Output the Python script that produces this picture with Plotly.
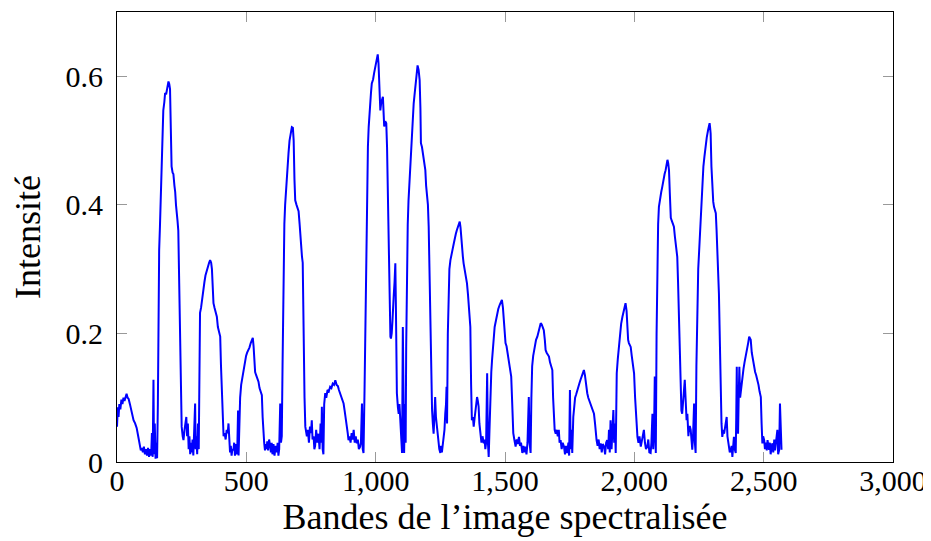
import plotly.graph_objects as go

# Bandes (abscisses) et intensités, par tronçons
bandes_1 = [0, 3, 6, 9, 13, 17, 21, 25, 29, 33, 37, 41, 45, 50, 55, 60, 64, 70, 76, 82,
            88, 92, 96, 100, 104, 108, 112, 116, 120, 124, 128, 132, 135, 138, 141, 143, 146, 149, 152, 155,
            158, 160, 163, 166, 170, 173, 176, 179, 183, 186, 190, 194, 199, 202, 205, 208, 211, 215, 218, 222,
            225, 228, 231, 234, 237, 240, 244, 247, 250, 254, 257, 261, 265, 268, 271, 274, 277, 280, 283, 286,
            289, 292, 295, 298, 302, 304, 307, 310, 313, 316, 318, 321, 325, 328, 331, 334, 338, 342, 347, 351,
            356, 360, 364, 367, 370, 373, 377, 381, 386, 390, 393, 396, 399, 402, 405, 409, 412, 416, 420, 424,
            428, 431, 434, 437, 440, 443, 446, 450, 453, 456, 459, 462, 465, 468, 470, 473, 476, 480, 483, 487,
            491, 495, 499, 503, 508, 512, 517, 521, 525, 528, 531, 534, 538, 542, 547, 551, 556, 560, 563, 566,
            569, 572, 575, 578, 581, 584, 588, 592, 595, 598, 601, 605, 609, 613, 618, 621, 624, 627, 631, 634,
            637, 640, 644, 647, 650, 654, 658, 663, 667, 671, 676, 680, 683, 686, 689, 694, 698, 702, 706, 710,
            715, 718, 721, 725, 728, 731, 734]
intens_1 = [0.055, 0.085, 0.07, 0.09, 0.082, 0.097, 0.09, 0.1, 0.095, 0.103, 0.106, 0.1, 0.098, 0.09, 0.08, 0.072, 0.065, 0.06, 0.053, 0.04,
            0.026, 0.018, 0.022, 0.015, 0.024, 0.012, 0.02, 0.01, 0.022, 0.008, 0.02, 0.01, 0.045, 0.008, 0.128, 0.012, 0.06, 0.005, 0.03, 0.006,
            0.09, 0.2, 0.33, 0.366, 0.42, 0.47, 0.51, 0.547, 0.56, 0.574, 0.572, 0.585, 0.592, 0.588, 0.58, 0.52, 0.46, 0.45, 0.448, 0.43,
            0.42, 0.40, 0.38, 0.375, 0.36, 0.30, 0.21, 0.12, 0.055, 0.04, 0.034, 0.05, 0.06, 0.07, 0.04, 0.06, 0.02, 0.04, 0.012, 0.03,
            0.015, 0.035, 0.01, 0.04, 0.091, 0.02, 0.04, 0.012, 0.06, 0.02, 0.12, 0.232, 0.24, 0.25, 0.26, 0.273, 0.28, 0.29, 0.299, 0.305,
            0.31, 0.314, 0.31, 0.3, 0.26, 0.247, 0.24, 0.235, 0.226, 0.21, 0.205, 0.2, 0.195, 0.15, 0.107, 0.06, 0.04, 0.045, 0.035, 0.05,
            0.045, 0.06, 0.03, 0.015, 0.025, 0.01, 0.02, 0.018, 0.03, 0.01, 0.028, 0.012, 0.02, 0.08, 0.01, 0.085, 0.1, 0.12, 0.128, 0.14,
            0.15, 0.16, 0.165, 0.17, 0.174, 0.178, 0.185, 0.188, 0.193, 0.18, 0.15, 0.14, 0.135, 0.13, 0.125, 0.115, 0.108, 0.104, 0.07, 0.04,
            0.03, 0.018, 0.028, 0.02, 0.032, 0.018, 0.035, 0.025, 0.015, 0.03, 0.012, 0.028, 0.01, 0.025, 0.015, 0.03, 0.01, 0.02, 0.091, 0.03,
            0.04, 0.15, 0.325, 0.37, 0.40, 0.43, 0.45, 0.48, 0.5, 0.51, 0.521, 0.52, 0.5, 0.44, 0.407, 0.4, 0.395, 0.39, 0.37, 0.34,
            0.32, 0.31, 0.2, 0.1, 0.055, 0.045, 0.04]

bandes_2 = [738, 742, 746, 750, 753, 756, 760, 763, 766, 770, 774, 779, 783, 787, 790, 792, 795, 798, 801, 805,
            809, 814, 819, 824, 829, 834, 839, 844, 849, 854, 858, 863, 868, 872, 876, 880, 884, 889, 892, 895,
            899, 903, 907, 911, 915, 919, 923, 927, 931, 935, 940, 943, 947, 950, 953, 957, 960, 962, 966, 970,
            973, 976, 979, 982, 985, 990, 994, 998, 1002, 1005, 1008, 1011, 1015, 1018, 1022, 1025, 1028, 1031, 1033, 1037,
            1041, 1044, 1046, 1050, 1052, 1054, 1057, 1059, 1062, 1065, 1067, 1070, 1073, 1076, 1078, 1080, 1082, 1086, 1089, 1092,
            1095, 1098, 1102, 1105, 1107, 1110, 1113, 1116, 1118, 1121, 1124, 1127, 1131, 1134, 1138, 1142, 1147, 1150, 1153, 1157,
            1162, 1166, 1170, 1173, 1175, 1179, 1182, 1185, 1189, 1192, 1195, 1198, 1202, 1205, 1208, 1211, 1214, 1218, 1221, 1224,
            1227, 1230, 1233, 1237, 1240, 1243, 1246, 1250, 1253, 1256, 1260, 1263, 1266, 1269, 1272, 1274, 1276, 1279, 1282, 1285]
intens_2 = [0.05, 0.03, 0.055, 0.045, 0.065, 0.035, 0.04, 0.02, 0.025, 0.05, 0.03, 0.044, 0.02, 0.06, 0.03, 0.086, 0.02, 0.012, 0.09, 0.107,
            0.1, 0.112, 0.11, 0.117, 0.115, 0.122, 0.12, 0.127, 0.12, 0.118, 0.112, 0.107, 0.1, 0.095, 0.091, 0.08, 0.07, 0.055, 0.045, 0.034,
            0.04, 0.03, 0.045, 0.035, 0.05, 0.03, 0.04, 0.029, 0.035, 0.02, 0.024, 0.03, 0.091, 0.02, 0.014, 0.112, 0.2, 0.314, 0.454, 0.49,
            0.521, 0.545, 0.563, 0.575, 0.589, 0.595, 0.605, 0.615, 0.622, 0.63, 0.634, 0.62, 0.574, 0.547, 0.56, 0.565, 0.568, 0.54, 0.522, 0.53,
            0.527, 0.49, 0.444, 0.366, 0.28, 0.21, 0.195, 0.192, 0.2, 0.22, 0.231, 0.26, 0.28, 0.309, 0.25, 0.2, 0.107, 0.085, 0.075, 0.09,
            0.065, 0.04, 0.014, 0.21, 0.06, 0.014, 0.09, 0.03, 0.18, 0.314, 0.37, 0.407, 0.44, 0.47, 0.5, 0.53, 0.558, 0.57, 0.583, 0.6,
            0.617, 0.61, 0.594, 0.55, 0.496, 0.49, 0.48, 0.475, 0.465, 0.454, 0.43, 0.418, 0.4, 0.366, 0.3, 0.21, 0.13, 0.081, 0.06, 0.044,
            0.07, 0.101, 0.07, 0.055, 0.04, 0.03, 0.02, 0.014, 0.025, 0.015, 0.03, 0.034, 0.05, 0.075, 0.09, 0.117, 0.06, 0.2, 0.288, 0.3]

bandes_3 = [1289, 1293, 1297, 1302, 1306, 1310, 1314, 1318, 1322, 1325, 1328, 1331, 1334, 1337, 1340, 1344, 1348, 1353, 1357, 1361,
            1364, 1366, 1369, 1372, 1376, 1379, 1383, 1388, 1392, 1395, 1398, 1401, 1405, 1409, 1413, 1418, 1421, 1424, 1427, 1431,
            1434, 1437, 1440, 1443, 1447, 1450, 1453, 1456, 1460, 1465, 1469, 1474, 1480, 1485, 1488, 1492, 1496, 1499, 1502, 1506,
            1510, 1515, 1519, 1524, 1528, 1532, 1536, 1541, 1545, 1549, 1554, 1558, 1562, 1567, 1571, 1575, 1579, 1583, 1587, 1590,
            1592, 1595, 1599, 1602, 1605, 1609, 1612, 1616, 1620, 1625, 1630, 1634, 1638, 1642, 1646, 1650, 1654, 1657, 1661, 1665,
            1670, 1674, 1679, 1683, 1686, 1689, 1692, 1696, 1700, 1704, 1708, 1711, 1715, 1719, 1723, 1728, 1732, 1736, 1741, 1745,
            1748, 1751, 1754, 1757, 1760, 1764, 1767, 1771, 1775, 1779, 1783, 1788, 1792, 1796, 1800, 1805, 1809, 1813, 1818, 1822,
            1826, 1831, 1835, 1840, 1844, 1848, 1851, 1854, 1858, 1862, 1866, 1870, 1874, 1878, 1883, 1887, 1891, 1895, 1899, 1902,
            1905, 1908, 1912, 1916, 1919, 1922, 1925, 1928, 1932, 1936, 1941, 1945, 1949, 1954, 1958, 1962, 1966, 1970, 1973, 1976,
            1979, 1983, 1986, 1990, 1994, 1999, 2003, 2008, 2012, 2016, 2020, 2025, 2029, 2033, 2037, 2041, 2045, 2050, 2054, 2058,
            2063, 2066, 2070, 2073, 2076, 2079, 2081, 2083]
intens_3 = [0.314, 0.32, 0.33, 0.34, 0.35, 0.355, 0.361, 0.365, 0.37, 0.374, 0.365, 0.345, 0.335, 0.32, 0.309, 0.3, 0.29, 0.278, 0.26, 0.24,
            0.22, 0.21, 0.12, 0.065, 0.07, 0.055, 0.07, 0.09, 0.101, 0.095, 0.086, 0.06, 0.039, 0.03, 0.04, 0.029, 0.035, 0.02, 0.03, 0.138,
            0.03, 0.008, 0.05, 0.107, 0.14, 0.159, 0.18, 0.2, 0.21, 0.22, 0.231, 0.238, 0.245, 0.25, 0.252, 0.24, 0.22, 0.2, 0.185, 0.18,
            0.17, 0.16, 0.15, 0.133, 0.09, 0.045, 0.035, 0.024, 0.035, 0.028, 0.039, 0.025, 0.03, 0.014, 0.025, 0.015, 0.024, 0.012, 0.03, 0.06,
            0.101, 0.03, 0.014, 0.1, 0.149, 0.165, 0.174, 0.18, 0.19, 0.195, 0.205, 0.21, 0.216, 0.214, 0.21, 0.205, 0.19, 0.174, 0.17, 0.168,
            0.164, 0.155, 0.148, 0.143, 0.1, 0.055, 0.05, 0.044, 0.05, 0.04, 0.05, 0.03, 0.034, 0.02, 0.03, 0.024, 0.012, 0.025, 0.014, 0.03,
            0.01, 0.112, 0.02, 0.05, 0.014, 0.07, 0.091, 0.1, 0.105, 0.112, 0.118, 0.123, 0.128, 0.133, 0.138, 0.143, 0.135, 0.12, 0.107, 0.1,
            0.095, 0.091, 0.085, 0.08, 0.075, 0.06, 0.045, 0.034, 0.025, 0.035, 0.02, 0.029, 0.015, 0.028, 0.024, 0.012, 0.03, 0.034, 0.02, 0.05,
            0.015, 0.065, 0.02, 0.06, 0.081, 0.03, 0.06, 0.014, 0.138, 0.16, 0.185, 0.2, 0.215, 0.226, 0.235, 0.242, 0.247, 0.235, 0.21, 0.19,
            0.185, 0.182, 0.179, 0.165, 0.155, 0.138, 0.1, 0.055, 0.039, 0.03, 0.04, 0.024, 0.035, 0.045, 0.05, 0.03, 0.02, 0.024, 0.035, 0.015,
            0.014, 0.03, 0.075, 0.02, 0.04, 0.133, 0.03, 0.014]

bandes_4 = [2086, 2089, 2092, 2095, 2099, 2104, 2108, 2112, 2117, 2121, 2124, 2128, 2131, 2134, 2137, 2141, 2145, 2149, 2153, 2157,
            2162, 2166, 2169, 2173, 2176, 2179, 2182, 2185, 2188, 2191, 2195, 2198, 2202, 2205, 2209, 2212, 2215, 2218, 2221, 2224,
            2227, 2231, 2234, 2237, 2240, 2244, 2247, 2250, 2253, 2256, 2260, 2263, 2267, 2271, 2276, 2280, 2285, 2288, 2291, 2293,
            2295, 2298, 2302, 2305, 2308, 2312, 2315, 2318, 2321, 2324, 2327, 2331, 2334, 2337, 2340, 2344, 2347, 2351, 2354, 2357,
            2360, 2363, 2366, 2369, 2373, 2376, 2379, 2382, 2385, 2388, 2392, 2394, 2396, 2398, 2401, 2403, 2406, 2409, 2411, 2415,
            2418, 2422, 2426, 2431, 2435, 2440, 2444, 2447, 2450, 2454, 2458, 2463, 2467, 2471, 2476, 2480, 2484, 2489, 2492, 2495,
            2498, 2502, 2505, 2508, 2512, 2515, 2518, 2521, 2524, 2527, 2531, 2534, 2537, 2541, 2544, 2547, 2550, 2553, 2556, 2560,
            2563, 2566, 2569]
intens_4 = [0.2, 0.325, 0.37, 0.397, 0.41, 0.42, 0.428, 0.44, 0.448, 0.454, 0.46, 0.47, 0.465, 0.454, 0.42, 0.38, 0.375, 0.37, 0.366, 0.35,
            0.33, 0.319, 0.28, 0.21, 0.15, 0.091, 0.08, 0.075, 0.09, 0.11, 0.128, 0.1, 0.065, 0.075, 0.04, 0.055, 0.055, 0.05, 0.03, 0.019,
            0.04, 0.091, 0.03, 0.014, 0.15, 0.262, 0.3, 0.324, 0.35, 0.376, 0.41, 0.439, 0.46, 0.475, 0.496, 0.505, 0.516, 0.52, 0.527, 0.52,
            0.511, 0.46, 0.418, 0.405, 0.397, 0.39, 0.387, 0.36, 0.335, 0.3, 0.262, 0.18, 0.107, 0.06, 0.039, 0.05, 0.044, 0.055, 0.06, 0.07,
            0.04, 0.03, 0.029, 0.015, 0.019, 0.025, 0.008, 0.03, 0.039, 0.02, 0.014, 0.07, 0.148, 0.06, 0.044, 0.09, 0.148, 0.1, 0.107, 0.125,
            0.138, 0.145, 0.155, 0.164, 0.175, 0.185, 0.195, 0.19, 0.19, 0.17, 0.16, 0.148, 0.14, 0.135, 0.128, 0.12, 0.11, 0.101, 0.06, 0.029,
            0.04, 0.034, 0.02, 0.03, 0.018, 0.034, 0.025, 0.019, 0.03, 0.012, 0.025, 0.029, 0.015, 0.035, 0.018, 0.029, 0.04, 0.05, 0.012, 0.019,
            0.091, 0.03, 0.019]

bandes = bandes_1 + bandes_2 + bandes_3 + bandes_4
intensite = intens_1 + intens_2 + intens_3 + intens_4
assert len(bandes) == len(intensite), (len(bandes), len(intensite))

x_ticks = [0, 500, 1000, 1500, 2000, 2500, 3000]
y_ticks = [0, 0.2, 0.4, 0.6]
y_labels = ["0", "0.2", "0.4", "0.6"]

police = "Liberation Serif"

fig = go.Figure()

fig.add_trace(
    go.Scatter(
        x=bandes,
        y=intensite,
        mode="lines",
        line=dict(color="#0000ff", width=2),
        showlegend=False
    )
)

# la page ajoute 8 px de marge autour de la figure
fig.update_layout(
    width=923,
    height=533,
    margin=dict(l=109, r=38, t=4, b=79),
    paper_bgcolor="white",
    plot_bgcolor="white",
    font=dict(family=police, size=30, color="black"),
    xaxis=dict(
        range=[0, 3000],
        tickvals=x_ticks,
        tickformat=",",
        showgrid=False,
        zeroline=False,
        showline=True,
        linecolor="black",
        linewidth=1,
        mirror="allticks",
        ticks="inside",
        ticklen=10,
        tickcolor="#999999",
        ticklabelstandoff=-8,
        automargin=False,
        title=dict(text="Bandes de l’image spectralisée", standoff=6),
    ),
    yaxis=dict(
        range=[0, 0.7],
        tickvals=y_ticks,
        ticktext=y_labels,
        showgrid=False,
        zeroline=False,
        showline=True,
        linecolor="black",
        linewidth=1,
        mirror="allticks",
        ticks="inside",
        ticklen=10,
        tickcolor="#999999",
        ticklabelstandoff=7,
        automargin=False,
        title=dict(text="Intensité", standoff=14),
    ),
)

fig.write_html("out.html")
